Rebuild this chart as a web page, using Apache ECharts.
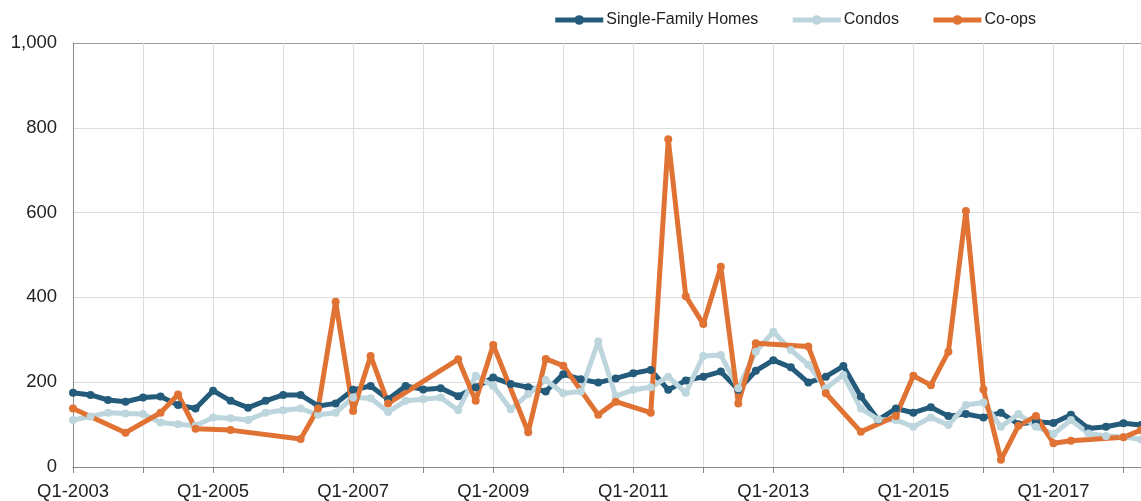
<!DOCTYPE html>
<html>
<head>
<meta charset="utf-8">
<script src="https://cdn.jsdelivr.net/npm/echarts@6/dist/echarts.min.js"></script>
<style>
  html, body { margin: 0; padding: 0; background: #fff; }
  #chart { width: 1141px; height: 501px; }
</style>
</head>
<body>
<div id="chart"></div>
<script>
  // quarters Q1-2003 .. Q2-2018
  var quarters = [];
  for (var y = 2003; y <= 2018; y++) {
    for (var q = 1; q <= 4; q++) {
      if (y === 2018 && q > 2) break;
      quarters.push('Q' + q + '-' + y);
    }
  }

  var singleFamily = [175, 170, 158, 154, 164, 166, 146, 138, 180, 156, 140, 156, 170, 170, 144, 150,
    182, 191, 160, 191, 183, 186, 167, 188, 211, 196, 188, 178, 219, 207, 199, 209,
    221, 229, 182, 204, 213, 225, 182, 227, 252, 235, 199, 213, 238, 166, 111, 138,
    128, 141, 120, 125, 117, 128, 101, 107, 104, 123, 91, 95, 103, 99];

  var condos = [111, 119, 128, 126, 125, 105, 101, 97, 117, 115, 111, 128, 134, 138, 123, 128,
    164, 162, 130, 156, 160, 164, 134, 215, 191, 136, 172, 205, 174, 178, 296, 167,
    182, 188, 213, 175, 262, 264, 186, 272, 319, 276, 241, 186, 217, 138, 112, 111,
    95, 117, 99, 146, 152, 95, 125, 95, 78, 111, 79, 73, 71, 65];

  var coops = [138, null, null, 81, null, 128, 171, 90, null, 87, null, null, null, 66, 138, 390,
    132, 262, 150, null, null, null, 254, 156, 288, null, 82, 255, 239, null, 123, 154,
    null, 128, 773, 403, 337, 472, 150, 292, null, null, 284, 174, null, 83, null, 120,
    215, 193, 272, 604, 183, 17, 97, 120, 56, 62, null, null, 70, 87];

  var yTicks = [0, 200, 400, 600, 800, 1000];

  function mkSeries(name, data, color) {
    return {
      name: name,
      type: 'line',
      data: data,
      connectNulls: true,
      symbol: 'circle',
      symbolSize: 8,
      lineStyle: { width: 5, color: color },
      itemStyle: { color: color },
      emphasis: { disabled: true }
    };
  }

  var chart = echarts.init(document.getElementById('chart'), null, { renderer: 'canvas' });
  chart.setOption({
    animation: false,
    textStyle: { fontFamily: 'Liberation Sans, Arial, sans-serif' },
    legend: {
      right: 100,
      top: 7,
      itemWidth: 48,
      itemHeight: 12,
      itemGap: 32,
      lineStyle: { width: 5 },
      textStyle: { fontSize: 16, color: '#222', padding: [0, 0, 0, -2] },
      data: ['Single-Family Homes', 'Condos', 'Co-ops']
    },
    grid: { left: 73, right: 0, top: 43, bottom: 34, containLabel: false },
    xAxis: {
      type: 'category',
      data: quarters,
      boundaryGap: false,
      axisLine: { lineStyle: { color: '#888', width: 1 } },
      axisTick: { show: true, interval: 3, length: 6, lineStyle: { color: '#888' } },
      axisLabel: { interval: 7, fontSize: 18.5, color: '#222', margin: 15 },
      splitLine: { show: true, interval: 3, lineStyle: { color: '#ddd', width: 1 } }
    },
    yAxis: {
      type: 'value',
      min: yTicks[0],
      max: yTicks[yTicks.length - 1],
      interval: 200,
      axisLine: { show: true, lineStyle: { color: '#888', width: 1 } },
      axisTick: { show: false },
      axisLabel: {
        fontSize: 18.5, color: '#222', margin: 16,
        formatter: function (v) { return v.toLocaleString('en-US'); }
      },
      splitLine: { lineStyle: { color: ['#ddd', '#ddd', '#ddd', '#ddd', '#ddd', '#999'], width: 1 } }
    },
    series: [
      mkSeries('Single-Family Homes', singleFamily, '#245b7b'),
      mkSeries('Condos', condos, '#bdd5dd'),
      mkSeries('Co-ops', coops, '#e07334')
    ]
  });
</script>
</body>
</html>
